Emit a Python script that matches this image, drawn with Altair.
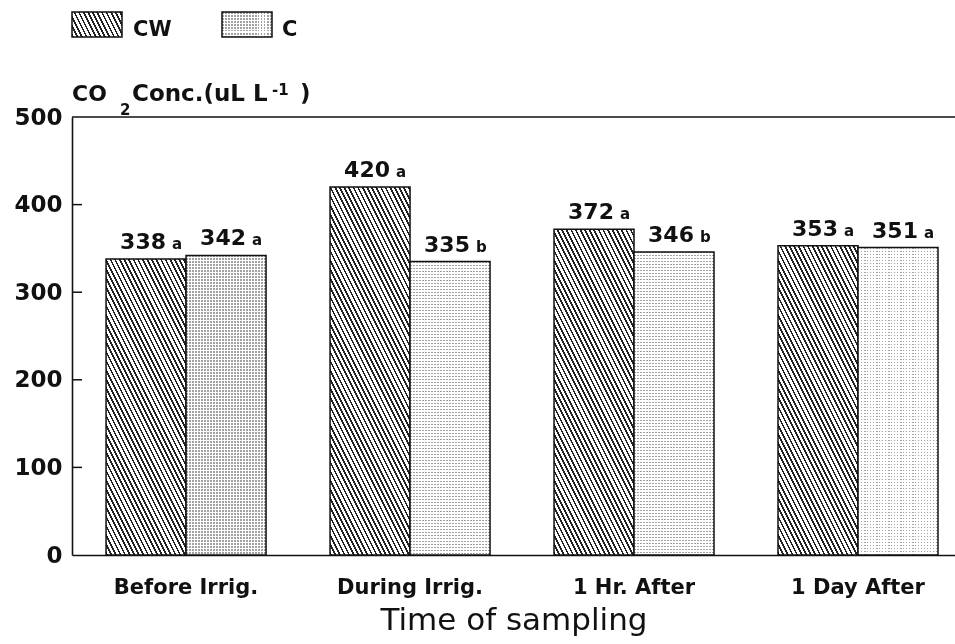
import math
import altair as alt
import pandas as pd

# ---- data -------------------------------------------------------------
times = ["Before Irrig.", "During Irrig.", "1 Hr. After", "1 Day After"]
series = ["CW", "C"]
cw_values = [338, 420, 372, 353]
c_values = [342, 335, 346, 351]
cw_letters = ["a", "a", "a", "a"]
c_letters = ["a", "b", "b", "a"]
y_ticks = [0, 100, 200, 300, 400, 500]
inner_ticks = [100, 200, 300, 400]

rows = []
for i, t in enumerate(times):
    rows.append({"time": t, "series": "CW", "value": cw_values[i], "letter": cw_letters[i]})
    rows.append({"time": t, "series": "C", "value": c_values[i], "letter": c_letters[i]})
df = pd.DataFrame(rows)

# ---- layout -----------------------------------------------------------
W, H = 883, 438
Y_MAX = 500
PAD_IN, PAD_OUT, ALIGN = 0.2857, 0.114, 0.667
step = W / (len(times) - PAD_IN + 2 * PAD_OUT)
bar_w = step * (1 - PAD_IN) / len(series)
FONT = "DejaVu Sans"
INK = "#111111"


def stripes(n, dark, light, ink):
    stops = []
    k = 0
    while k < n:
        a = round(k / n, 5)
        b = round(min((k + ink) / n, 1), 5)
        c = round(min((k + 1) / n, 1), 5)
        stops += [(a, dark), (b, dark), (b, light), (c, light)]
        k += 1
    return [alt.GradientStop(offset=o, color=col) for o, col in stops]


def hatch(w, h, slope=2.0, period=4.1, ink=0.4, dark="#222222", light="#ffffff"):
    """Diagonal '\\' hatching as a hard-stop linear gradient for a w x h box."""
    beta = (slope * w + h) / (slope ** 2 * w ** 2 + h ** 2)
    dx, dy = slope * w * beta, -h * beta
    n = (slope * w + h) / (math.sqrt(1 + slope ** 2) * period)
    return alt.LinearGradient(gradient="linear", x1=0, y1=1,
                              x2=round(dx, 5), y2=round(1 + dy, 5),
                              stops=stripes(n, dark, light, ink))


def dot_rows(length, vertical, period=3.0, ink=0.5, dark="#a2a2a2", light="#ffffff"):
    """Straight stripes; two of them combined with 'lighten' leave a dot screen."""
    n = length / period
    if vertical:
        return alt.LinearGradient(gradient="linear", x1=0, y1=0, x2=1, y2=0,
                                  stops=stripes(n, dark, light, ink))
    return alt.LinearGradient(gradient="linear", x1=0, y1=0, x2=0, y2=1,
                              stops=stripes(n, dark, light, ink))


x_enc = alt.X(
    "time:N", sort=times, title="Time of sampling",
    scale=alt.Scale(domain=times, paddingInner=PAD_IN, paddingOuter=PAD_OUT, align=ALIGN),
    axis=alt.Axis(labelAngle=0, ticks=False, tickSize=0, labelPadding=21,
                  labelFont=FONT, labelFontWeight="bold", labelFontSize=21, labelColor=INK,
                  titleFont=FONT, titleFontWeight="normal", titleFontSize=31, titleColor=INK,
                  titlePadding=8, domainColor=INK, domainWidth=1.6, grid=False),
)
xoff_enc = alt.XOffset("series:N", sort=series,
                       scale=alt.Scale(domain=series, paddingInner=0, paddingOuter=0))
y_enc = alt.Y(
    "value:Q", title=None,
    scale=alt.Scale(domain=[0, Y_MAX], nice=False, zero=True),
    axis=alt.Axis(values=y_ticks, ticks=False, tickSize=0, labelPadding=10,
                  labelFont=FONT, labelFontWeight="bold", labelFontSize=23, labelColor=INK,
                  domainColor=INK, domainWidth=1.6, grid=False),
)

base = alt.Chart(df)
enc = dict(x=x_enc, xOffset=xoff_enc, y=y_enc)

# hatched CW bars, one layer each so the hatch keeps its angle on every height
cw_bars = [
    base.transform_filter(f"datum.series == 'CW' && datum.time == '{t}'")
    .mark_bar(fill=hatch(bar_w, v * H / Y_MAX), stroke=INK, strokeWidth=1.5)
    .encode(**enc)
    for t, v in zip(times, cw_values)
]

# stippled C bars: vertical stripes, horizontal stripes lightened on top, then the outline
c_base = (
    base.transform_filter("datum.series == 'C'")
    .mark_bar(fill=dot_rows(bar_w, True), strokeWidth=0)
    .encode(**enc)
)
c_rows = [
    base.transform_filter(f"datum.series == 'C' && datum.time == '{t}'")
    .mark_bar(fill=dot_rows(v * H / Y_MAX, False), strokeWidth=0, blend="lighten")
    .encode(**enc)
    for t, v in zip(times, c_values)
]
c_outline = (
    base.transform_filter("datum.series == 'C'")
    .mark_bar(fillOpacity=0, stroke=INK, strokeWidth=1.5)
    .encode(**enc)
)

value_labels = base.mark_text(
    font=FONT, fontWeight="bold", fontSize=22, color=INK,
    baseline="alphabetic", align="center", dx=-3, dy=-10,
).encode(text="value:Q", **enc)

letter_labels = base.mark_text(
    font=FONT, fontWeight="bold", fontSize=15, color=INK,
    baseline="alphabetic", align="left", dx=26, dy=-10,
).encode(text="letter:N", **enc)

# inward ticks on the value axis and the top frame line
tick_rules = alt.Chart(pd.DataFrame({"value": inner_ticks})).mark_rule(
    color=INK, strokeWidth=1.5
).encode(y=y_enc, x=alt.value(0), x2=alt.value(10))

top_rule = alt.Chart(pd.DataFrame({"value": [Y_MAX]})).mark_rule(
    color=INK, strokeWidth=1.6
).encode(y=y_enc, x=alt.value(0), x2=alt.value(W))


def label(text, x, y, size, align="left"):
    return alt.Chart(pd.DataFrame({"t": [text]})).mark_text(
        font=FONT, fontWeight="bold", fontSize=size, color=INK,
        align=align, baseline="alphabetic",
    ).encode(x=alt.value(x), y=alt.value(y), text="t:N")


# value-axis title with sub/superscripts
y_title = [
    label("CO", 0, -16, 22),
    label("2", 48, -2, 15),
    label("Conc.(uL L", 60, -16, 23),
    label("-1", 200, -22, 15),
    label(")", 228, -16, 23),
]


def swatch(x0, fill, **kw):
    return alt.Chart(pd.DataFrame({"k": [0]})).mark_rect(fill=fill, **kw).encode(
        x=alt.value(x0), x2=alt.value(x0 + 50), y=alt.value(-105), y2=alt.value(-80)
    )


legend = [
    swatch(0, hatch(50, 25), stroke=INK, strokeWidth=1.5),
    label(series[0], 61, -81, 21),
    swatch(150, dot_rows(50, True), strokeWidth=0),
    swatch(150, dot_rows(25, False), strokeWidth=0, blend="lighten"),
    swatch(150, "#ffffff", fillOpacity=0, stroke=INK, strokeWidth=1.5),
    label(series[1], 210, -81, 21),
]

chart = (
    alt.layer(*cw_bars, c_base, *c_rows, c_outline, value_labels, letter_labels,
              tick_rules, top_rule, *y_title, *legend)
    .properties(
        width=W, height=H,
        padding={"left": 72, "top": 117, "right": 0, "bottom": 89},
        autosize=alt.AutoSizeParams(type="none"),
        background="white",
    )
    .configure_view(stroke=None)
)

chart.save("out.html", embed_options={"renderer": "svg", "actions": False})
